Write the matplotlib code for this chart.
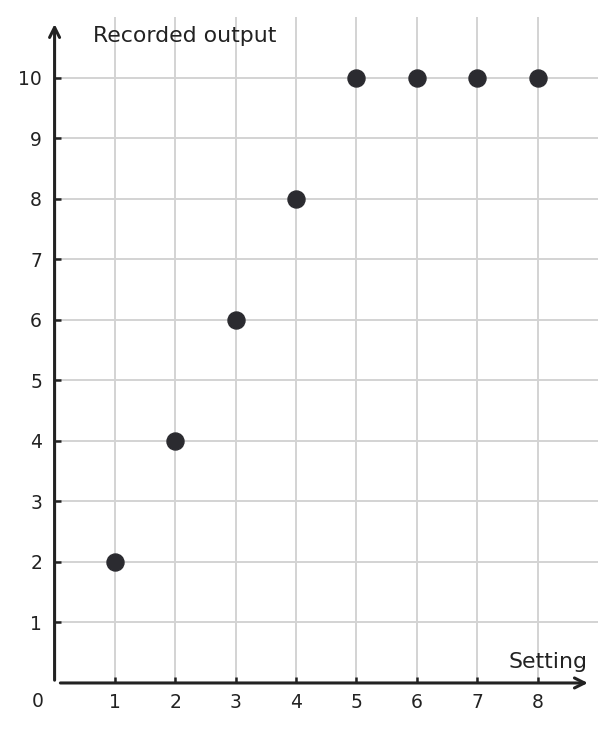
import matplotlib
matplotlib.use("Agg")
import matplotlib.pyplot as plt

plt.rcParams["font.family"] = ["DejaVu Sans"]

# values
settings = [1, 2, 3, 4, 5, 6, 7, 8]
outputs = [2, 4, 6, 8, 10, 10, 10, 10]
x_ticks = [1, 2, 3, 4, 5, 6, 7, 8]
y_ticks = [1, 2, 3, 4, 5, 6, 7, 8, 9, 10]

INK = "#222222"
GRID = "#d3d3d3"
TICK_FS = 13.5
TITLE_FS = 15.8

fig = plt.figure(figsize=(6.16, 7.31), dpi=100)
ax = fig.add_axes([0.0886, 0.0657, 0.882, 0.911])
ax.set_xlim(0, 9)
ax.set_ylim(0, 11)

for s in ax.spines.values():
    s.set_visible(False)

ax.set_xticks(x_ticks)
ax.set_yticks(y_ticks)
ax.grid(color=GRID, lw=1.4)
ax.set_axisbelow(True)
ax.tick_params(direction="in", length=4, width=1.8, color=INK, labelcolor=INK,
               labelsize=TICK_FS)
ax.tick_params(axis="x", pad=7)
ax.tick_params(axis="y", pad=9)

# axis arrows
ax.annotate("", xy=(8.88, 0), xytext=(0.05, 0),
            arrowprops=dict(arrowstyle="->", lw=2.2, color=INK, mutation_scale=18),
            annotation_clip=False)
ax.annotate("", xy=(0, 10.93), xytext=(0, 0),
            arrowprops=dict(arrowstyle="->", lw=2.2, color=INK, mutation_scale=18),
            annotation_clip=False)

ax.scatter(settings, outputs, s=150, color="#2b2b30", zorder=3, clip_on=False)

# axis titles, placed by baseline
ax.text(0.636, 10.58, "Recorded output", fontsize=TITLE_FS, color=INK,
        va="baseline", ha="left")
ax.text(8.83, 0.24, "Setting", fontsize=TITLE_FS, color=INK,
        va="baseline", ha="right")
ax.text(-0.28, -0.30, "0", fontsize=TICK_FS, color=INK, va="center", ha="center")

fig.savefig("out.png", dpi=100)
